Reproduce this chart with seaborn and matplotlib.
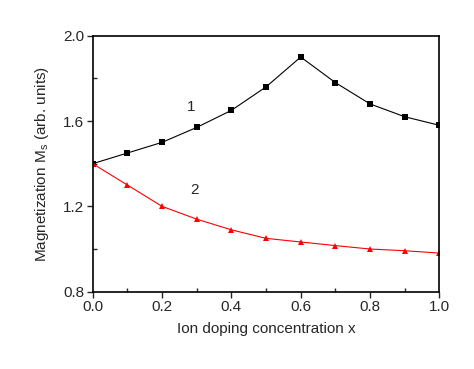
import numpy as np
import pandas as pd
import matplotlib
matplotlib.use("Agg")
import matplotlib.pyplot as plt
from matplotlib.ticker import MultipleLocator
import seaborn as sns

# values
x_conc = [0.0, 0.1, 0.2, 0.3, 0.4, 0.5, 0.6, 0.7, 0.8, 0.9, 1.0]
ms_curve1 = [1.40, 1.45, 1.50, 1.57, 1.65, 1.76, 1.90, 1.78, 1.68, 1.62, 1.58]
ms_curve2 = [1.40, 1.30, 1.20, 1.14, 1.09, 1.05, 1.033, 1.016, 1.00, 0.992, 0.981]
curve_names = ["1", "2"]

df = pd.DataFrame({
    "x": x_conc + x_conc,
    "Ms": ms_curve1 + ms_curve2,
    "curve": [curve_names[0]] * len(x_conc) + [curve_names[1]] * len(x_conc),
})

sns.set_style("ticks")
plt.rcParams["font.family"] = ["Liberation Sans", "DejaVu Sans"]

fig = plt.figure(figsize=(4.74, 3.69), dpi=100)
ax = fig.add_axes([0.1956, 0.2095, 0.927 - 0.1956, 0.9033 - 0.2095])

sns.lineplot(data=df, x="x", y="Ms", hue="curve", style="curve",
             palette={"1": "black", "2": "red"},
             markers={"1": "s", "2": "^"}, dashes=False,
             markersize=5, linewidth=0.8, markeredgewidth=0,
             legend=False, ax=ax)

ax.set_xlim(0.0, 1.0)
ax.set_ylim(0.8, 2.0)
ax.xaxis.set_major_locator(MultipleLocator(0.2))
ax.xaxis.set_minor_locator(MultipleLocator(0.1))
ax.yaxis.set_major_locator(MultipleLocator(0.4))
ax.yaxis.set_minor_locator(MultipleLocator(0.2))
ax.tick_params(which="major", direction="out", length=4, width=1, labelsize=11, pad=2)
ax.tick_params(which="minor", direction="in", length=3, width=1)
for s in ax.spines.values():
    s.set_linewidth(1.2)
    s.set_color("black")

ax.set_xlabel("Ion doping concentration x", fontsize=11, labelpad=6)
ax.set_ylabel("Magnetization M$_\\mathregular{s}$ (arb. units)", fontsize=11, labelpad=9)

ax.text(0.285, 1.668, "1", fontsize=11, ha="center", va="center")
ax.text(0.295, 1.278, "2", fontsize=11, ha="center", va="center")

fig.savefig("out.png", dpi=100)
